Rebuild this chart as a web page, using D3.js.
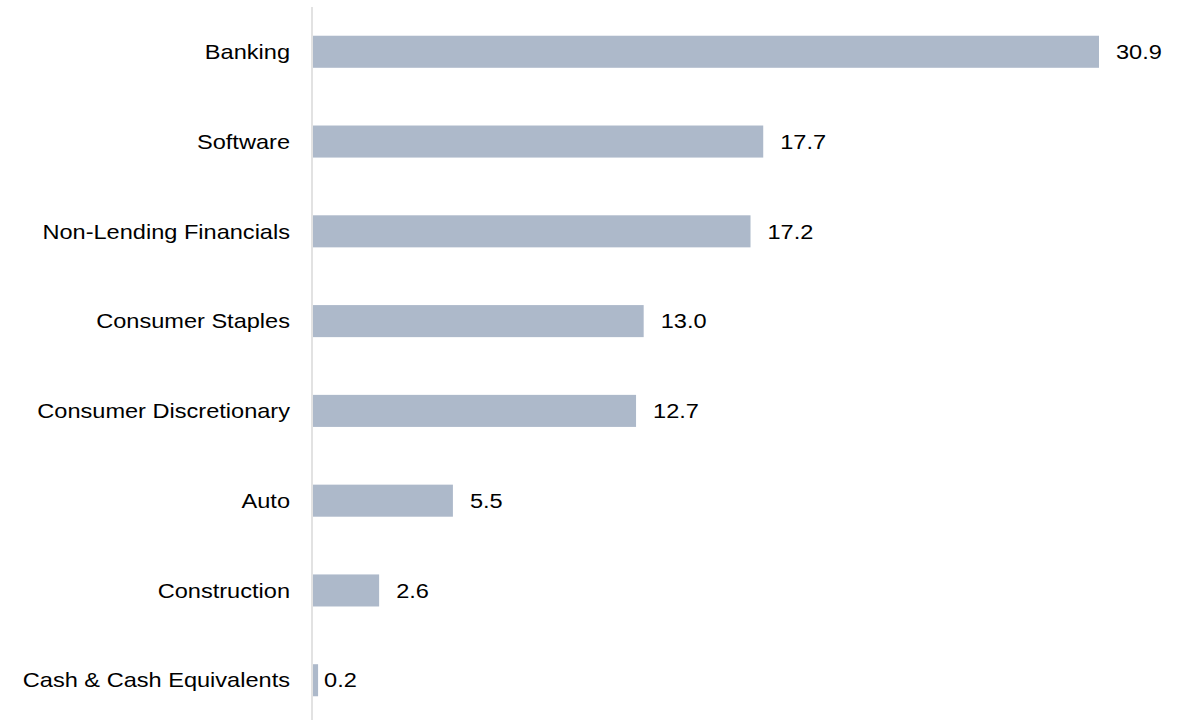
<!DOCTYPE html>
<meta charset="utf-8">
<style>
    body { margin: 0; background: #fff; }
    .bar { fill: #adb9ca; }
    text { font-family: "Liberation Sans", Arial, sans-serif; fill: #000; }
</style>
<svg width="1183" height="721"></svg>
<script src="https://d3js.org/d3.v7.min.js"></script>
<script>
    // sector names and their weights, top to bottom
    var sectors = ['Banking', 'Software', 'Non-Lending Financials', 'Consumer Staples',
        'Consumer Discretionary', 'Auto', 'Construction', 'Cash & Cash Equivalents'];
    var weights = [30.9, 17.7, 17.2, 13.0, 12.7, 5.5, 2.6, 0.2];

    var data = sectors.map((s, i) => ({ sector: s, value: weights[i] }));

    var svg = d3.select('svg'),
        axisX = 313,
        stretch = 1.15; // the reference text is a little wide

    var x = d3.scaleLinear().domain([0, 30.9]).range([axisX, 1099]);
    var y = d3.scaleBand().domain(sectors).range([7, 725]).paddingInner(0.643).paddingOuter(0.32);

    // bars
    svg.selectAll('.bar')
        .data(data)
        .enter().append('rect')
        .attr('class', 'bar')
        .attr('x', x(0))
        .attr('y', d => y(d.sector))
        .attr('width', d => x(d.value) - x(0))
        .attr('height', y.bandwidth());

    // vertical axis line
    svg.append('line')
        .attr('x1', axisX - 1).attr('x2', axisX - 1)
        .attr('y1', 7).attr('y2', 720)
        .attr('stroke', '#d9d9d9')
        .attr('stroke-width', 1.5);

    // category labels
    svg.selectAll('.cat')
        .data(data)
        .enter().append('text')
        .attr('class', 'cat')
        .attr('transform', d => 'translate(290,' + (y(d.sector) + y.bandwidth() / 2) + ') scale(' + stretch + ',1)')
        .attr('dy', '0.35em')
        .attr('text-anchor', 'end')
        .style('font-size', '20.5px')
        .text(d => d.sector);

    // value labels
    svg.selectAll('.val')
        .data(data)
        .enter().append('text')
        .attr('class', 'val')
        .attr('transform', d => 'translate(' + (x(d.value) + (d.value < 1 ? 6 : 17)) + ',' + (y(d.sector) + y.bandwidth() / 2) + ') scale(' + stretch + ',1)')
        .attr('dy', '0.35em')
        .style('font-size', '20.5px')
        .text(d => d3.format('.1f')(d.value));
</script>
